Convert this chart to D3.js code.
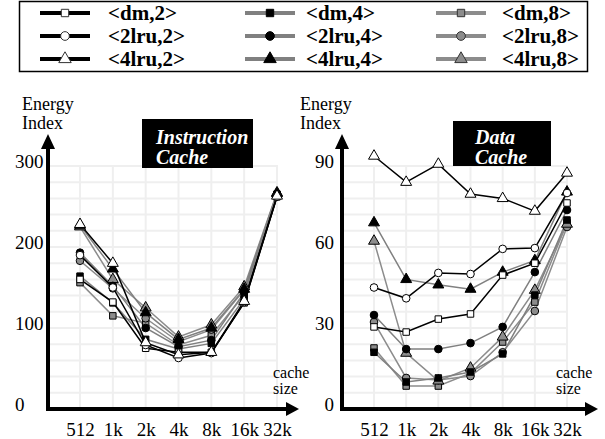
<!DOCTYPE html>
<html>
<head>
<meta charset="utf-8">
<script src="https://cdn.jsdelivr.net/npm/d3@7"></script>
<style>
  body { margin: 0; background: #fff; }
  svg { display: block; }
  text { font-family: "Liberation Serif", "Times New Roman", serif; }
</style>
</head>
<body>
<svg id="chart" width="605" height="439"></svg>
<script>
const FONT = '"Liberation Serif", "Times New Roman", serif';

// cache sizes on the x axis
const cacheSizes = ["512", "1k", "2k", "4k", "8k", "16k", "32k"];

// configurations, legend order (row by row)
const configNames = ["<dm,2>", "<dm,4>", "<dm,8>",
                     "<2lru,2>", "<2lru,4>", "<2lru,8>",
                     "<4lru,2>", "<4lru,4>", "<4lru,8>"];

// energy index, instruction cache (same order as configNames)
const instructionValues = [
    [160, 132, 75, 70, 70, 131, 262],
    [164, 131, 86, 74, 81, 136, 264],
    [156, 115, 106, 79, 91, 141, 265],
    [190, 150, 79, 63, 69, 132, 262],
    [193, 152, 100, 77, 85, 144, 265],
    [183, 149, 112, 83, 98, 147, 266],
    [228, 180, 82, 67, 70, 133, 263],
    [227, 173, 119, 86, 100, 148, 266],
    [225, 160, 125, 89, 104, 151, 267]
];

// energy index, data cache
const dataValues = [
    [30.4, 28.5, 33.3, 35.2, 49.6, 54, 76.3],
    [21, 10, 11.5, 13.7, 20.4, 42.2, 70],
    [22.6, 8.5, 8.5, 13.3, 24.8, 39.6, 69],
    [45, 41, 50.4, 50, 59.3, 59.6, 80],
    [34.8, 22.2, 22.2, 24.4, 30.4, 50.7, 73.7],
    [32.2, 11.5, 10.7, 12.2, 21, 36.3, 67.4],
    [93.7, 84, 90.7, 79.6, 78, 73.3, 87.4],
    [69, 48, 46, 44.4, 50.7, 55, 80.4],
    [62.2, 20.7, 10.4, 15.2, 26.7, 44, 68.5]
];

const instructionTicks = [0, 100, 200, 300];
const dataTicks = [0, 30, 60, 90];

const svg = d3.select("#chart");

const shapeOf = name => name.startsWith("<dm") ? d3.symbolSquare
    : name.startsWith("<2lru") ? d3.symbolCircle : d3.symbolTriangle;
const sizeOf = name => name.startsWith("<dm") ? 42 : name.startsWith("<2lru") ? 46 : 52;
const assocOf = name => name.slice(-2, -1);
const lineColor = { "2": "#000", "4": "#808080", "8": "#8c8c8c" };
const fillColor = { "2": "#fff", "4": "#000", "8": "#8c8c8c" };

// ---- legend ----
const legend = svg.append("g");
legend.append("rect")
    .attr("x", 19.5).attr("y", 1.5).attr("width", 568).attr("height", 70)
    .attr("fill", "none").attr("stroke", "#000").attr("stroke-width", 1.5);

const colX = [40, 245, 436];
const textX = [108, 306, 502];
const rowY = [13, 36, 59];

configNames.forEach((name, i) => {
    const col = i % 3, row = Math.floor(i / 3);
    const a = assocOf(name);
    const g = legend.append("g");
    g.append("line")
        .attr("x1", colX[col]).attr("x2", colX[col] + 50)
        .attr("y1", rowY[row]).attr("y2", rowY[row])
        .attr("stroke", lineColor[a]).attr("stroke-width", 4);
    g.append("path")
        .attr("d", d3.symbol().type(shapeOf(name)).size(sizeOf(name) * 1.3)())
        .attr("transform", `translate(${colX[col] + 25},${rowY[row]})`)
        .attr("fill", fillColor[a]).attr("stroke", a === "4" ? "#000" : "#333").attr("stroke-width", 1);
    g.append("text")
        .attr("x", textX[col]).attr("y", rowY[row] + 7)
        .style("font-family", FONT)
        .style("font-size", "21px").style("font-weight", "bold")
        .text(name);
});

// ---- one panel ----
function drawPanel(opts) {
    const x = d3.scalePoint().domain(cacheSizes).range(opts.xRange);
    const y = d3.scaleLinear().domain([0, opts.max]).range([409, 166]);
    const g = svg.append("g");

    // grid
    g.selectAll(".hgrid")
        .data(d3.range(opts.step, opts.max + 0.001, opts.step))
        .enter().append("line")
        .attr("x1", opts.axisX).attr("x2", opts.xRange[1] + 1)
        .attr("y1", d => y(d)).attr("y2", d => y(d))
        .attr("stroke", "#efefef").attr("stroke-width", 2);
    g.selectAll(".vgrid")
        .data(cacheSizes)
        .enter().append("line")
        .attr("x1", d => x(d)).attr("x2", d => x(d))
        .attr("y1", y(0)).attr("y2", y(opts.max))
        .attr("stroke", "#efefef").attr("stroke-width", 2);

    // axes with arrows
    g.append("line")
        .attr("x1", opts.axisX).attr("x2", opts.axisX)
        .attr("y1", y(0) + 2).attr("y2", 146)
        .attr("stroke", "#000").attr("stroke-width", 4);
    g.append("path")
        .attr("d", `M${opts.axisX - 7},149 L${opts.axisX + 7},149 L${opts.axisX},134 Z`)
        .attr("fill", "#000");
    g.append("line")
        .attr("x1", opts.axisX - 2).attr("x2", opts.arrowEnd - 10)
        .attr("y1", y(0)).attr("y2", y(0))
        .attr("stroke", "#000").attr("stroke-width", 4);
    g.append("path")
        .attr("d", `M${opts.arrowEnd - 13},${y(0) - 7} L${opts.arrowEnd - 13},${y(0) + 7} L${opts.arrowEnd},${y(0)} Z`)
        .attr("fill", "#000");

    // tick labels
    const xAxis = g.append("g")
        .attr("transform", `translate(0,${y(0) + 27})`)
        .call(d3.axisBottom(x).tickSize(0).tickPadding(0));
    xAxis.attr("font-family", null).attr("font-size", null);
    xAxis.select(".domain").remove();
    xAxis.selectAll("text")
        .style("font-family", FONT)
        .style("font-size", "19px").attr("fill", "#000").attr("dy", "0");

    const yAxis = g.append("g")
        .attr("transform", `translate(${opts.labelX},0)`)
        .call(d3.axisLeft(y).tickValues(opts.ticks).tickSize(0).tickPadding(0));
    yAxis.attr("font-family", null).attr("font-size", null);
    yAxis.select(".domain").remove();
    yAxis.selectAll("text")
        .style("font-family", FONT)
        .style("font-size", "19px").attr("fill", "#000")
        .attr("text-anchor", opts.labelAnchor)
        .attr("dy", "0").attr("x", 0).attr("y", 1);

    // axis titles
    const label = (tx, ty, t, size) => g.append("text")
        .attr("x", tx).attr("y", ty)
        .style("font-family", FONT).style("font-size", size).text(t);
    label(opts.titleX, 110, "Energy", "18px");
    label(opts.titleX, 129, "Index", "18px");
    label(opts.sizeX, 378, "cache", "16px");
    label(opts.sizeX, 394, "size", "16px");

    // title box
    g.append("rect")
        .attr("x", opts.box[0]).attr("y", opts.box[1])
        .attr("width", opts.box[2]).attr("height", opts.box[3])
        .attr("fill", "#000");
    opts.title.forEach((t, i) => {
        g.append("text")
            .attr("x", opts.titleTextX).attr("y", 144 + i * 20)
            .attr("fill", "#fff")
            .style("font-family", FONT)
            .style("font-size", "20px").style("font-weight", "bold").style("font-style", "italic")
            .text(t);
    });

    // series
    const line = d3.line().x((d, i) => x(cacheSizes[i])).y(d => y(d));
    const order = [2, 5, 8, 1, 4, 7, 0, 3, 6];
    order.forEach(k => {
        const name = configNames[k];
        const a = assocOf(name);
        g.append("path")
            .datum(opts.values[k])
            .attr("d", line)
            .attr("fill", "none")
            .attr("stroke", lineColor[a])
            .attr("stroke-width", 1.5);
    });
    order.forEach(k => {
        const name = configNames[k];
        const a = assocOf(name);
        g.selectAll(null)
            .data(opts.values[k])
            .enter().append("path")
            .attr("d", d3.symbol().type(shapeOf(name)).size(sizeOf(name)))
            .attr("transform", (d, i) => `translate(${x(cacheSizes[i])},${y(d)})`)
            .attr("fill", fillColor[a])
            .attr("stroke", "#000").attr("stroke-width", 1);
    });
}

drawPanel({
    values: instructionValues, max: 300, step: 20, ticks: instructionTicks,
    xRange: [80, 277], axisX: 48, arrowEnd: 299,
    labelX: 15, labelAnchor: "start", titleX: 22, sizeX: 273,
    box: [142, 119, 111, 49], titleTextX: 156, title: ["Instruction", "Cache"]
});

drawPanel({
    values: dataValues, max: 90, step: 6, ticks: dataTicks,
    xRange: [374, 567], axisX: 342, arrowEnd: 598,
    labelX: 334, labelAnchor: "end", titleX: 300, sizeX: 556,
    box: [453, 121, 98, 45], titleTextX: 475, title: ["Data", "Cache"]
});
</script>
</body>
</html>
